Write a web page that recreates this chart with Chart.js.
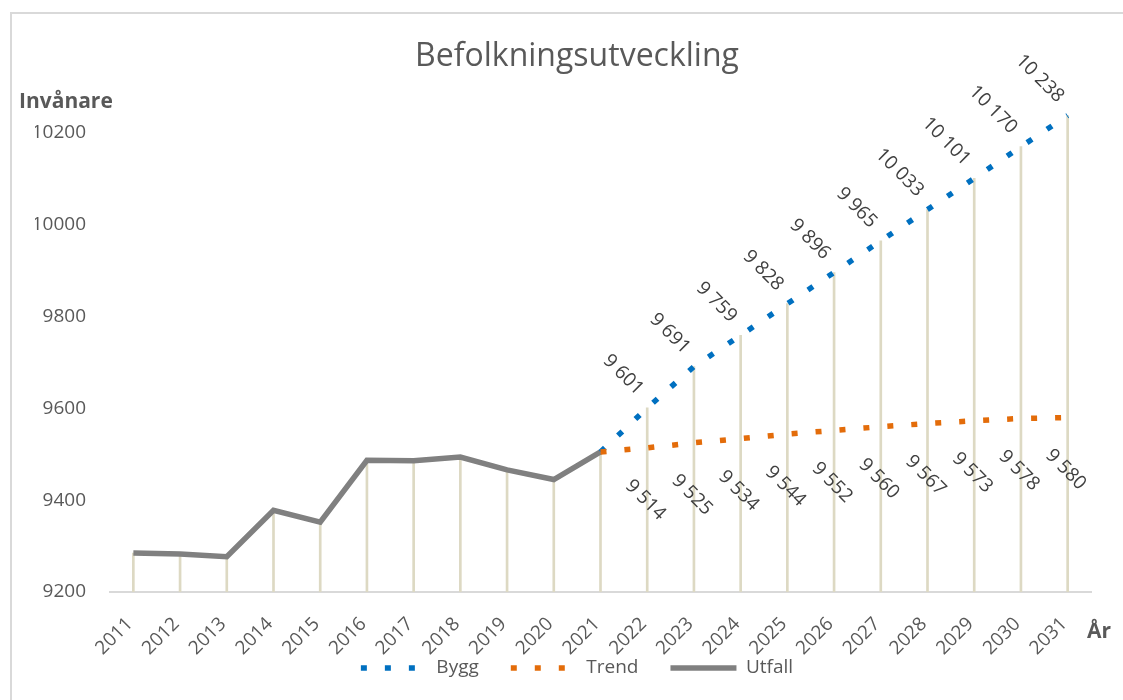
<!DOCTYPE html>
<html lang="sv">
<head>
<meta charset="utf-8">
<title>Befolkningsutveckling</title>
<script src="https://cdn.jsdelivr.net/npm/chart.js@4.4.1/dist/chart.umd.min.js"></script>
<style>
  html, body { margin: 0; padding: 0; background: #fff; }
  #wrap { position: relative; width: 1123px; height: 700px; }
</style>
</head>
<body>
<div id="wrap"><canvas id="chart"></canvas></div>
<script>
// Data
const years = ["2011", "2012", "2013", "2014", "2015", "2016", "2017", "2018", "2019", "2020",
  "2021", "2022", "2023", "2024", "2025", "2026", "2027", "2028", "2029", "2030", "2031"];

const utfall = [9285, 9283, 9277, 9378, 9352, 9487, 9486, 9494, 9466, 9445, 9505,
  null, null, null, null, null, null, null, null, null, null];

const bygg = [null, null, null, null, null, null, null, null, null, null,
  9505, 9601, 9691, 9759, 9828, 9896, 9965, 10033, 10101, 10170, 10238];

const trend = [null, null, null, null, null, null, null, null, null, null,
  9505, 9514, 9525, 9534, 9544, 9552, 9560, 9567, 9573, 9578, 9580];

const yTicks = { min: 9200, max: 10300, step: 200 };

// lodräta linjer ner till axeln (högsta värdet per år)
const drops = years.map((_, i) => (utfall[i] != null ? utfall[i] : bygg[i]));

const FONT = "'Open Sans', sans-serif";
const TEXT = "#595959";

function fmt(v) {
  return String(v).replace(/\B(?=(\d{3})+(?!\d))/g, " ");
}

// ram, axeltitlar och dataetiketter
const extras = {
  id: "extras",
  beforeDraw(chart) {
    const ctx = chart.ctx;
    ctx.save();
    ctx.strokeStyle = "#D9D9D9";
    ctx.lineWidth = 2;
    ctx.strokeRect(11, 13, 1300, 900);
    ctx.restore();
  },
  afterDraw(chart) {
    const ctx = chart.ctx;
    ctx.save();
    ctx.fillStyle = TEXT;
    ctx.font = "bold 21px " + FONT;
    ctx.textAlign = "left";
    ctx.textBaseline = "alphabetic";
    ctx.fillText("Invånare", 19, 108);
    ctx.fillText("År", 1087, 638);

    ctx.fillStyle = "#404040";
    ctx.font = "19px " + FONT;
    ctx.textBaseline = "middle";
    const label = (dsIndex, values, align, dx, dy) => {
      const meta = chart.getDatasetMeta(dsIndex);
      values.forEach((v, i) => {
        if (v == null || i <= 10) return;
        const pt = meta.data[i];
        ctx.save();
        ctx.translate(pt.x + dx, pt.y + dy);
        ctx.rotate(Math.PI / 4);
        ctx.textAlign = align;
        ctx.fillText(fmt(v), 0, 0);
        ctx.restore();
      });
    };
    label(0, bygg, "right", -7, -16);
    label(1, trend, "left", -19, 35);
    ctx.restore();
  }
};

new Chart(document.getElementById("chart"), {
  data: {
    labels: years,
    datasets: [
      {
        type: "line",
        label: "Bygg",
        data: bygg,
        borderColor: "#0070C0",
        backgroundColor: "#0070C0",
        borderWidth: 5.5,
        borderDash: [6, 18],
        borderCapStyle: "butt",
        pointRadius: 0,
        fill: false,
        tension: 0,
        order: 1
      },
      {
        type: "line",
        label: "Trend",
        data: trend,
        borderColor: "#E36C0A",
        backgroundColor: "#E36C0A",
        borderWidth: 5.5,
        borderDash: [6, 18],
        borderCapStyle: "butt",
        pointRadius: 0,
        fill: false,
        tension: 0,
        order: 0
      },
      {
        type: "line",
        label: "Utfall",
        data: utfall,
        borderColor: "#808080",
        backgroundColor: "#808080",
        borderWidth: 5.5,
        pointRadius: 0,
        fill: false,
        tension: 0,
        order: 2
      },
      {
        type: "bar",
        label: "drops",
        data: drops,
        backgroundColor: "#DDD9C3",
        borderWidth: 0,
        barThickness: 2,
        order: 3
      }
    ]
  },
  options: {
    responsive: true,
    maintainAspectRatio: false,
    animation: false,
    events: [],
    layout: { padding: { left: 35, right: 4, top: 0, bottom: 12.5 } },
    plugins: {
      title: {
        display: true,
        text: "Befolkningsutveckling",
        color: TEXT,
        font: { family: FONT, size: 32, weight: "normal" },
        padding: { top: 38, bottom: 10.6 }
      },
      legend: {
        position: "bottom",
        labels: {
          filter: (item) => item.text !== "drops",
          sort: (a, b) => a.datasetIndex - b.datasetIndex,
          usePointStyle: true,
          pointStyle: "line",
          pointStyleWidth: 66,
          padding: 32,
          color: TEXT,
          font: { family: FONT, size: 19 },
          generateLabels: (chart) => {
            const items = Chart.defaults.plugins.legend.labels.generateLabels(chart);
            return items.map((item) => {
              const ds = chart.data.datasets[item.datasetIndex];
              item.lineDash = ds.borderDash || [];
              item.lineWidth = ds.borderWidth;
              item.strokeStyle = ds.borderColor;
              item.lineCap = "butt";
              return item;
            });
          }
        }
      },
      tooltip: { enabled: false }
    },
    scales: {
      x: {
        offset: true,
        grid: { display: false, drawTicks: false },
        border: { display: true, color: "#D9D9D9", width: 2 },
        ticks: {
          autoSkip: false,
          minRotation: 45,
          maxRotation: 45,
          mirror: true, // inga klippta etiketter
          padding: -37,
          labelOffset: 12.5,
          color: TEXT,
          font: { family: FONT, size: 19 }
        },
        afterFit: (s) => { s.height = 34.5; }
      },
      y: {
        min: yTicks.min,
        max: yTicks.max,
        grid: { display: false, drawTicks: false },
        border: { display: false },
        ticks: {
          stepSize: yTicks.step,
          includeBounds: false,
          padding: 24,
          color: TEXT,
          font: { family: FONT, size: 19 },
          callback: (v) => String(v)
        },
        afterFit: (s) => { s.width = 75; }
      },
      yRight: {
        position: "right",
        grid: { display: false, drawTicks: false },
        border: { display: false },
        ticks: { display: false },
        afterFit: (s) => { s.width = 28; }
      }
    }
  },
  plugins: [extras]
});
</script>
</body>
</html>
